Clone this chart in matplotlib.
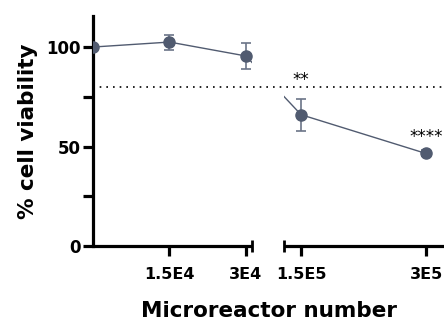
import numpy as np
import matplotlib
matplotlib.use("Agg")
import matplotlib.pyplot as plt

plt.rcParams['font.family'] = ['DejaVu Sans']

# data
doses = [0, 15000, 30000, 150000, 300000]
viability = [100, 102.5, 95.5, 66, 46.5]
errors = [0, 3.8, 6.5, 8, 1.5]
tick_pos = [15000, 30000, 150000, 300000]
tick_labels = ["1.5E4", "3E4", "1.5E5", "3E5"]
stars = {150000: "**", 300000: "****"}
threshold = 80

# broken axis: two linear pieces with a gap
L_END, R_START, R_END = 31200, 129600, 321600
S1, S2, GAP = 5.1e-3, 0.8333e-3, 32.0


def fwd(x):
    x = np.asarray(x, dtype=float)
    a = L_END * S1
    b = a + GAP
    return np.where(x <= L_END, x * S1,
                    np.where(x >= R_START, b + (x - R_START) * S2,
                             a + (x - L_END) / (R_START - L_END) * GAP))


def inv(y):
    y = np.asarray(y, dtype=float)
    a = L_END * S1
    b = a + GAP
    return np.where(y <= a, y / S1,
                    np.where(y >= b, R_START + (y - b) / S2,
                             L_END + (y - a) / GAP * (R_START - L_END)))


col = "#515b70"
fig = plt.figure(figsize=(4.44, 3.21), dpi=100)
ax = fig.add_axes([93 / 444, 75 / 321, 1 - 93 / 444, 230 / 321])
ax.set_xscale("function", functions=(fwd, inv))
ax.set_xlim(0, R_END)
ax.set_ylim(0, 115.6)

ax.plot(doses, viability, color=col, lw=1, zorder=2)
ax.axvspan(L_END, R_START, color="white", zorder=3, lw=0)
ax.axhline(threshold, color="black", lw=1.2, ls=(0, (1, 3)), zorder=4)
ax.errorbar(doses, viability, yerr=errors, fmt="o", color=col, ms=8,
            ecolor="#6b7488", elinewidth=1.2, capsize=3.5, capthick=1.2,
            zorder=5)
star_y = {150000: 83.5, 300000: 55}
for x, s in stars.items():
    ax.text(x, star_y[x], s, ha="center", va="center", fontsize=12,
            zorder=6)

for s in ["top", "right", "bottom"]:
    ax.spines[s].set_visible(False)
ax.spines["left"].set_linewidth(2.3)

# broken bottom axis line
ax.plot([0, L_END], [0, 0], color="black", lw=2.3, clip_on=False, zorder=7,
        solid_capstyle="butt")
ax.plot([R_START, R_END], [0, 0], color="black", lw=2.3, clip_on=False,
        zorder=7, solid_capstyle="butt")
ax.plot([L_END, R_START], [0, 0], ls="none", marker="|", ms=9, mew=2,
        color="black", clip_on=False, zorder=7)

ax.set_xticks(tick_pos)
ax.set_xticklabels(tick_labels, fontsize=11.5, fontweight="bold")
ax.tick_params(axis="x", length=7, width=2.3, pad=8)
ax.set_yticks([0, 50, 100])
ax.set_yticklabels(["0", "50", "100"], fontsize=12, fontweight="bold")
ax.tick_params(axis="y", which="both", length=7, width=2.3, pad=2)
ax.minorticks_on()
ax.xaxis.set_minor_locator(matplotlib.ticker.NullLocator())
ax.yaxis.set_minor_locator(matplotlib.ticker.FixedLocator([25, 75]))

ax.set_xlabel("Microreactor number", fontsize=15.5, fontweight="bold",
              labelpad=14)
ax.set_ylabel("% cell viability", fontsize=15.5, fontweight="bold",
              labelpad=6)

fig.savefig("out.png", dpi=100)
